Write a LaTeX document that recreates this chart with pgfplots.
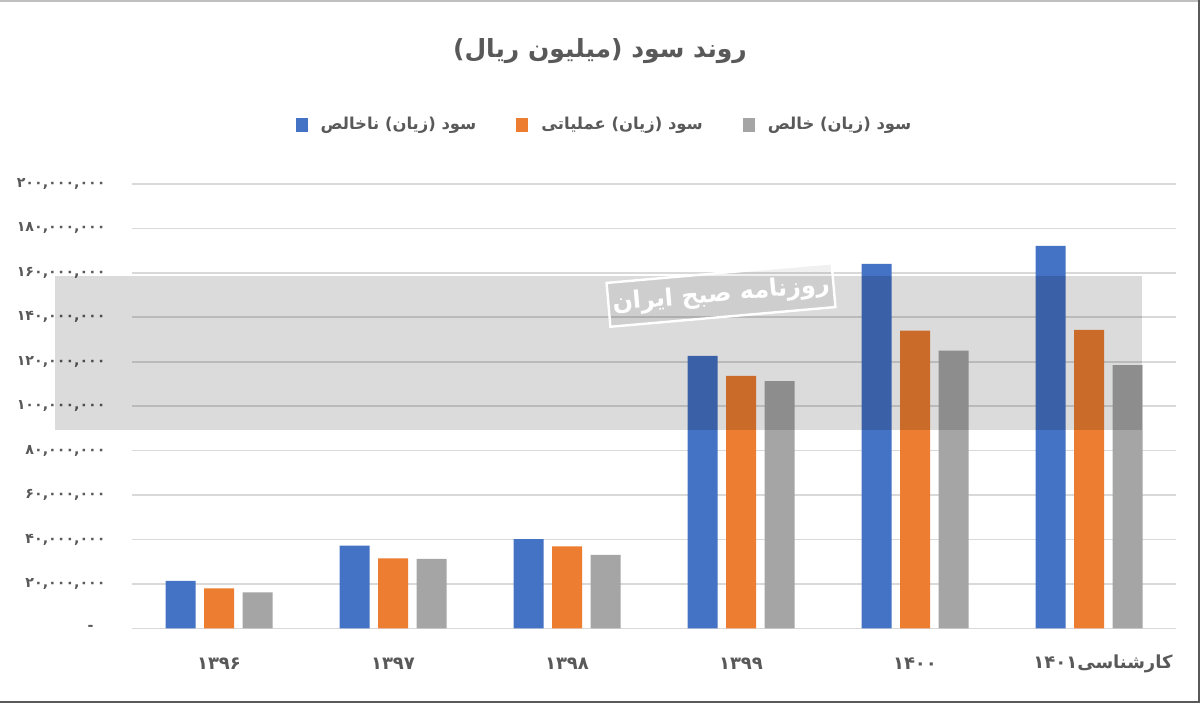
\documentclass[border=0pt]{standalone}
\usepackage{fontspec}
\usepackage{pgfplots}
\pgfplotsset{compat=1.18}
\TeXXeTstate=1
\setmainfont{DejaVu Sans}
\newfontfamily\arabicfont[Script=Arabic]{DejaVu Sans}
\definecolor{cblue}{HTML}{4472C4}
\definecolor{corange}{HTML}{ED7D31}
\definecolor{cgray}{HTML}{A5A5A5}
\definecolor{txt}{HTML}{595959}
\definecolor{gridc}{HTML}{D9D9D9}
\begin{document}
\begin{tikzpicture}[x=1pt,y=1pt]
\useasboundingbox (0,0) rectangle (600,351.5);
\fill[white] (0,0) rectangle (600,351.5);
\begin{axis}[
  at={(66pt,37.35pt)}, anchor=south west,
  scale only axis, width=522pt, height=222.15pt,
  xmin=-0.5, xmax=5.5, ymin=0, ymax=200000000,
  scaled y ticks=false,
  ybar=4.25pt, bar width=15pt,
  axis line style={draw=none}, tick style={draw=none},
  ymajorgrids, grid style={draw=gridc, line width=0.8pt},
  xtick={0,1,2,3,4,5},
  xticklabels={{۱۳۹۶},{۱۳۹۷},{۱۳۹۸},{۱۳۹۹},{۱۴۰۰},{\hspace*{14pt}\mbox{۱۴۰۱}\mbox{کارشناسی}}},
  xticklabel style={anchor=center, inner sep=0pt, yshift=-13.5pt, font=\arabicfont\fontsize{9}{11}\selectfont\bfseries, text=txt},
  ytick={0,20000000,40000000,60000000,80000000,100000000,120000000,140000000,160000000,180000000,200000000},
  yticklabels={{-\hspace*{6pt}},{۲۰,۰۰۰,۰۰۰},{۴۰,۰۰۰,۰۰۰},{۶۰,۰۰۰,۰۰۰},{۸۰,۰۰۰,۰۰۰},{۱۰۰,۰۰۰,۰۰۰},{۱۲۰,۰۰۰,۰۰۰},{۱۴۰,۰۰۰,۰۰۰},{۱۶۰,۰۰۰,۰۰۰},{۱۸۰,۰۰۰,۰۰۰},{۲۰۰,۰۰۰,۰۰۰}},
  yticklabel style={anchor=east, inner sep=0pt, xshift=-13pt, font=\arabicfont\fontsize{7.1}{9}\selectfont\bfseries, text=txt},
  legend columns=3,
  legend style={at={(0.4516,1.1328)}, anchor=center, draw=none, fill=none,
    font=\arabicfont\fontsize{8.2}{10}\selectfont\bfseries, text=txt,
    nodes={inner sep=0pt},
    /tikz/every odd column/.append style={column sep=6.5pt},
    /tikz/every even column/.append style={column sep=20pt}},
  legend image code/.code={\fill[#1,draw=none] (0pt,-3.5pt) rectangle (6pt,3.5pt);},
]
\addplot[fill=cblue, draw=none] coordinates {(0,21400000) (1,37200000) (2,40100000) (3,122600000) (4,164000000) (5,172100000)};
\addplot[fill=corange, draw=none] coordinates {(0,18000000) (1,31500000) (2,36900000) (3,113600000) (4,134000000) (5,134300000)};
\addplot[fill=cgray, draw=none] coordinates {(0,16200000) (1,31300000) (2,33000000) (3,111300000) (4,125000000) (5,118500000)};
\addlegendentry{\beginR سود (زیان) ناخالص\endR}
\addlegendentry{\beginR سود (زیان) عملیاتی\endR}
\addlegendentry{\beginR سود (زیان) خالص\endR}
\end{axis}
% watermark band
\fill[black, opacity=0.14] (27.5,136.5) rectangle (571,213.5);
\node[rotate=5, fill=black, fill opacity=0.06, text opacity=1, text=white, draw=white, draw opacity=1, line width=1.2pt, minimum width=112pt, minimum height=22pt, inner sep=2pt] at (360.5,204) {\arabicfont\fontsize{12}{14}\selectfont\bfseries\beginR روزنامه صبح ایران\endR};
% title
\node[text=txt] at (300,326) {\arabicfont\fontsize{12.5}{15}\selectfont\bfseries\beginR روند سود (میلیون ریال)\endR};
% frame
\draw[black!25, line width=1pt] (0,351) -- (600,351);
\draw[black!65, line width=1.2pt] (0,0.6) -- (599.4,0.6) -- (599.4,351.5);
\end{tikzpicture}
\end{document}
